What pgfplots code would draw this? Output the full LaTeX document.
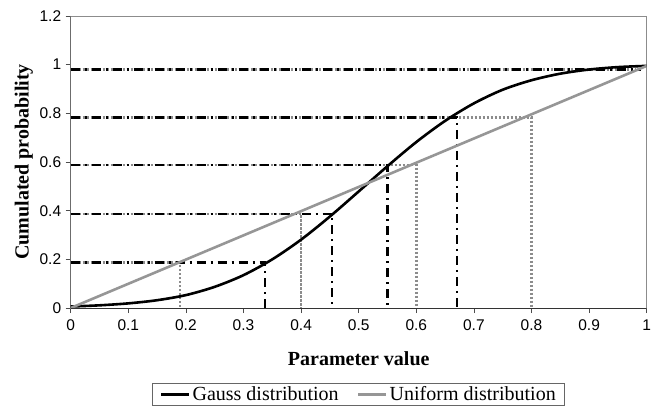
\documentclass[border=0pt]{standalone}
\usepackage{fontspec}
\setmainfont{Liberation Serif}
\newfontfamily\arial{Liberation Sans}
\usepackage{pgfplots}
\pgfplotsset{compat=1.18}
\usetikzlibrary{calc}
\definecolor{ugray}{RGB}{150,150,150}
\definecolor{dgray}{RGB}{140,140,140}
\begin{document}
\begin{tikzpicture}
\begin{axis}[
  scale only axis, width=576pt, height=292pt,
  xmin=0, xmax=1, ymin=0, ymax=1.2,
  xtick={0,0.1,0.2,0.3,0.4,0.5,0.6,0.7,0.8,0.9,1},
  xticklabels={0,0.1,0.2,0.3,0.4,0.5,0.6,0.7,0.8,0.9,1},
  ytick={0,0.2,0.4,0.6,0.8,1,1.2},
  yticklabels={0,0.2,0.4,0.6,0.8,1,1.2},
  tick pos=left, tick align=outside, major tick length=5pt,
  tick style={black!70, line width=0.6pt},
  axis line style={black!45, line width=0.7pt},
  /pgf/number format/assume math mode=true,
  xticklabel style={font=\fontsize{15.5}{15.5}\selectfont\arial, yshift=-3pt},
  yticklabel style={font=\fontsize{15.5}{15.5}\selectfont\arial, xshift=-1pt},
  xlabel={Parameter value},
  ylabel={Cumulated probability},
  xlabel style={font=\fontsize{20}{20}\selectfont\bfseries, at={(axis description cs:0.5,-0.1986)}, anchor=base},
  ylabel style={font=\fontsize{20}{20}\selectfont\bfseries, at={(axis description cs:-0.0729,0.5)}, anchor=base, rotate=0},
  legend columns=2,
  legend style={at={(axis description cs:0.5,-0.257)}, anchor=north, draw=black!60, line width=0.7pt,
    font=\fontsize{20}{20}\selectfont, inner xsep=7pt, inner ysep=1pt,
    /tikz/every even column/.append style={column sep=16pt}},
  legend image code/.code={\draw[#1, line width=3pt] (0pt,0pt) -- (28pt,0pt);},
]
\coordinate (O) at (axis cs:0,0);
% gray dotted helper lines (uniform)
\addplot[forget plot, dgray, line width=2.4pt, dash pattern=on 2.4pt off 1.6pt] coordinates {(0,0.187) (0.19,0.187) (0.19,0)};
\addplot[forget plot, dgray, line width=2.4pt, dash pattern=on 2.4pt off 1.6pt] coordinates {(0,0.387) (0.40,0.387) (0.40,0)};
\addplot[forget plot, dgray, line width=2.4pt, dash pattern=on 2.4pt off 1.6pt] coordinates {(0,0.587) (0.60,0.587) (0.60,0)};
\addplot[forget plot, dgray, line width=2.4pt, dash pattern=on 2.4pt off 1.6pt] coordinates {(0,0.783) (0.80,0.783) (0.80,0)};
\addplot[forget plot, dgray, line width=2.4pt, dash pattern=on 2.4pt off 1.6pt] coordinates {(0,0.98) (0.98,0.98)};
% black dash-dot helper lines (Gauss)
\addplot[forget plot, black, line width=2.4pt, dash pattern=on 9pt off 5pt on 2pt off 5pt] coordinates {(0,0.187) (0.337,0.187) (0.337,0)};
\addplot[forget plot, black, line width=2.4pt, dash pattern=on 9pt off 5pt on 2pt off 5pt] coordinates {(0,0.387) (0.454,0.387) (0.454,0)};
\addplot[forget plot, black, line width=2.4pt, dash pattern=on 9pt off 5pt on 2pt off 5pt] coordinates {(0,0.587) (0.550,0.587) (0.550,0)};
\addplot[forget plot, black, line width=2.4pt, dash pattern=on 9pt off 5pt on 2pt off 5pt] coordinates {(0,0.783) (0.671,0.783) (0.671,0)};
\addplot[forget plot, black, line width=2.4pt, dash pattern=on 9pt off 5pt on 2pt off 5pt] coordinates {(0,0.98) (0.99,0.98)};
% curves
\addplot[black, line width=2.6pt, smooth] coordinates {
(0,0.006) (0.05,0.011) (0.1,0.019) (0.15,0.032) (0.2,0.053) (0.25,0.087) (0.3,0.135) (0.35,0.200)
(0.4,0.281) (0.45,0.376) (0.5,0.479) (0.55,0.583) (0.6,0.682) (0.65,0.769) (0.7,0.841)
(0.75,0.897) (0.8,0.936) (0.85,0.963) (0.9,0.980) (0.95,0.990) (1,0.995)};
\addlegendentry{Gauss distribution}
\addplot[ugray, line width=2.6pt] coordinates {(0,0) (1,0.995)};
\addlegendentry{Uniform distribution}
\draw[black!80, line width=0.8pt] (rel axis cs:0,1) -- (rel axis cs:0,0) -- (rel axis cs:1,0);
\end{axis}
\pgfresetboundingbox
\path ($(O)+(-70.7pt,-99pt)$) rectangle ($(O)+(582.3pt,308pt)$);
\end{tikzpicture}
\end{document}
